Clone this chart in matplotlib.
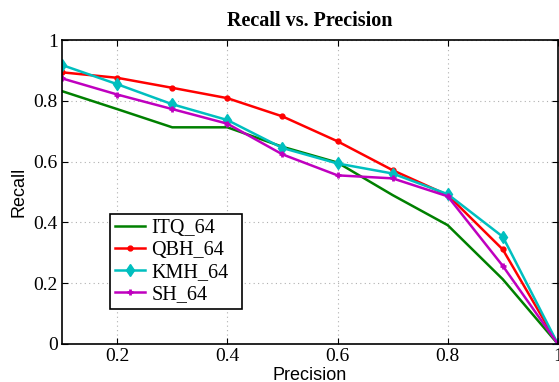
import matplotlib
matplotlib.use("Agg")
import matplotlib.pyplot as plt

precision = [0.1, 0.2, 0.3, 0.4, 0.5, 0.6, 0.7, 0.8, 0.9, 1.0]
itq_64 = [0.832, 0.773, 0.713, 0.713, 0.649, 0.597, 0.490, 0.391, 0.213, 0.0]
qbh_64 = [0.894, 0.876, 0.843, 0.809, 0.749, 0.667, 0.572, 0.490, 0.311, 0.0]
kmh_64 = [0.918, 0.855, 0.789, 0.737, 0.645, 0.594, 0.561, 0.493, 0.353, 0.0]
sh_64 = [0.874, 0.821, 0.773, 0.725, 0.624, 0.555, 0.545, 0.486, 0.257, 0.0]

xticks = [0.2, 0.4, 0.6, 0.8, 1.0]
xticklabels = ["0.2", "0.4", "0.6", "0.8", "1"]
yticks = [0, 0.2, 0.4, 0.6, 0.8, 1.0]
yticklabels = ["0", "0.2", "0.4", "0.6", "0.8", "1"]

serif = "Liberation Serif"
sans = "Liberation Sans"

fig = plt.figure(figsize=(5.59, 3.82), dpi=100)
ax = fig.add_axes([0.111, 0.0995, 0.887, 0.7955])

ax.plot(precision, itq_64, color="#008000", lw=1.8, label="ITQ_64")
ax.plot(precision, qbh_64, color="#ff0000", lw=1.8, marker=".", ms=7, label="QBH_64")
ax.plot(precision, kmh_64, color="#00bfbf", lw=1.8, marker="d", ms=6, label="KMH_64")
ax.plot(precision, sh_64, color="#bf00bf", lw=1.8, marker="+", ms=5, mew=2, label="SH_64")

ax.set_xlim(0.1, 1.0)
ax.set_ylim(0, 1)
ax.set_xticks(xticks)
ax.set_xticklabels(xticklabels, fontfamily=serif, fontsize=14)
ax.set_yticks(yticks)
ax.set_yticklabels(yticklabels, fontfamily=serif, fontsize=14)
ax.tick_params(direction="in", top=True, right=True, length=4, width=0.8, pad=3)
ax.grid(True, linestyle=(0, (1, 3)), color="#b0b0b0", linewidth=0.8)
for s in ax.spines.values():
    s.set_linewidth(1.2)

ax.set_title("Recall vs. Precision", fontfamily=serif, fontweight="bold", fontsize=14.5, pad=10)
ax.set_xlabel("Precision", fontfamily=sans, fontsize=13, labelpad=1)
ax.set_ylabel("Recall", fontfamily=sans, fontsize=13, labelpad=4)

leg = ax.legend(loc="lower left", bbox_to_anchor=(0.097, 0.115, 0.266, 0.31), mode="expand",
                prop={"family": serif, "size": 14.5}, fancybox=False, framealpha=1,
                edgecolor="black", borderpad=0.25, labelspacing=0.15, handlelength=1.5,
                handletextpad=0.3, borderaxespad=0)
leg.get_frame().set_linewidth(1.2)

fig.savefig("out.png", dpi=100)
